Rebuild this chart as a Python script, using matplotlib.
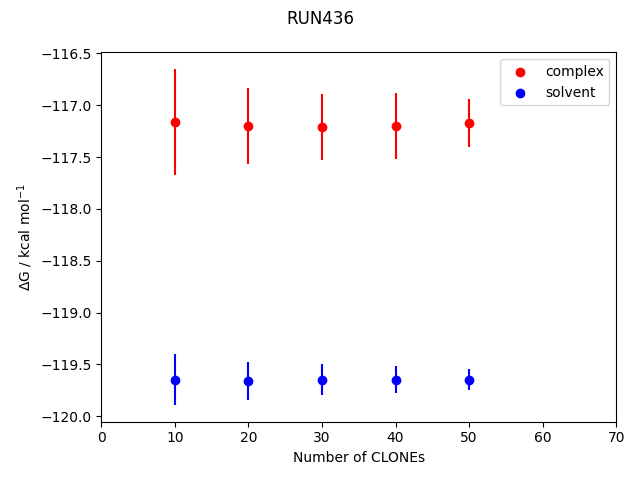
import matplotlib
matplotlib.use("Agg")
import matplotlib.pyplot as plt

clones = [10, 20, 30, 40, 50]
complex_dg = [-117.16, -117.20, -117.21, -117.20, -117.17]
complex_err = [0.51, 0.37, 0.32, 0.32, 0.23]
solvent_dg = [-119.645, -119.66, -119.645, -119.645, -119.645]
solvent_err = [0.245, 0.18, 0.145, 0.13, 0.105]

fig = plt.figure(figsize=(6.4, 4.8), dpi=100)
plt.scatter(clones, complex_dg, color="red", label="complex")
plt.errorbar(clones, complex_dg, yerr=complex_err, fmt="none", ecolor="red")
plt.scatter(clones, solvent_dg, color="blue", label="solvent")
plt.errorbar(clones, solvent_dg, yerr=solvent_err, fmt="none", ecolor="blue")
plt.legend()
plt.xlim([0, 70])
plt.xlabel("Number of CLONEs")
plt.ylabel(r"$\Delta$G / kcal mol$^{-1}$")
fig.suptitle("RUN436")
plt.tight_layout()
plt.savefig("out.png")
